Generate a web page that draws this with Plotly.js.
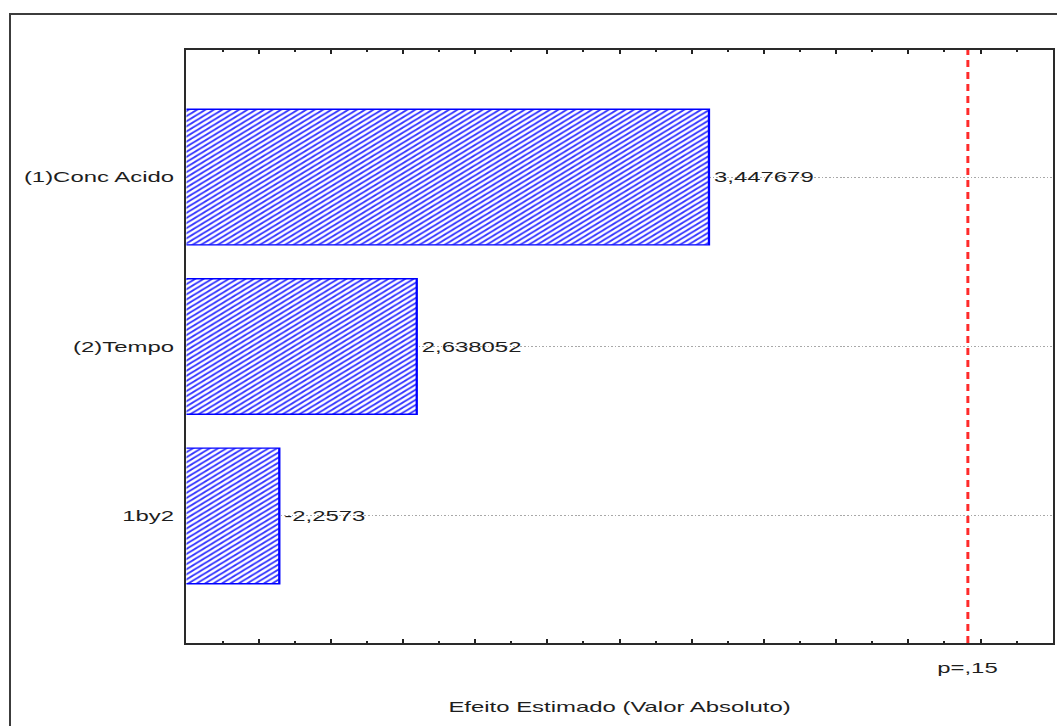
<!DOCTYPE html>
<html>
<head>
<meta charset="utf-8">
<script src="https://cdn.plot.ly/plotly-3.0.1.min.js"></script>
<style>
  html, body { margin: 0; padding: 0; background: #ffffff; }
  body { width: 1057px; height: 726px; overflow: hidden; position: relative; }
  /* the chart is laid out narrow and widened horizontally */
  #wrap { position: absolute; left: 0; top: 0; width: 640.6px; height: 726px;
          transform: scaleX(1.65); transform-origin: 0 0; }
  #frame { position: absolute; left: 9px; top: 13px; width: 1200px; height: 900px;
           border: 2px solid #3c3c3c; box-sizing: border-box; pointer-events: none; }
</style>
</head>
<body>
<div id="wrap"><div id="chart"></div></div>
<div id="frame"></div>
<script>
// Pareto chart of standardized effects
const factors = ['(1)Conc Acido', '(2)Tempo', '1by2'];
const effects = [3.447679, 2.638052, -2.2573];
const tCritical = 4.165;          // reference line for p = .15
const pLabel = 'p=,15';
const xTitle = 'Efeito Estimado (Valor Absoluto)';

const S = 1.65;                   // horizontal widening factor
const W = 1057 / S;
const H = 726;
const FONT = 'Liberation Sans, Arial, sans-serif';
const INK = '#1e1e1e';

const fmt = v => String(v).replace('.', ',');

const bars = {
  type: 'bar',
  orientation: 'h',
  y: factors,
  x: effects.map(Math.abs),
  width: 0.8,
  text: effects.map(fmt),
  textposition: 'outside',
  constraintext: 'none',
  cliponaxis: false,
  textfont: { family: FONT, size: 14.5, color: INK },
  marker: {
    color: '#ffffff',
    line: { color: '#0000ff', width: 1.4 },
    pattern: { shape: '/', fgcolor: '#3434ff', bgcolor: '#ffffff', size: 3.6, solidity: 0.42 }
  },
  hoverinfo: 'skip',
  showlegend: false
};

const layout = {
  width: W,
  height: H,
  margin: { l: 187 / S, r: W - 1052 / S, t: 50, b: 83 },
  paper_bgcolor: '#ffffff',
  plot_bgcolor: '#ffffff',
  font: { family: FONT, size: 14.5, color: INK },
  bargap: 0.2,
  xaxis: {
    type: 'linear',
    range: [2.0, 4.4],
    tick0: 2.0,
    dtick: 0.2,
    ticks: 'inside',
    ticklen: 4,
    tickwidth: 1.2,
    tickcolor: '#222222',
    minor: { dtick: 0.1, ticks: 'inside', ticklen: 2, tickwidth: 1.2, tickcolor: '#222222', showgrid: false },
    showticklabels: false,
    showgrid: false,
    zeroline: false,
    showline: true,
    linecolor: '#2a2a2a',
    linewidth: 1.6,
    mirror: 'ticks',
    title: { text: xTitle, font: { family: FONT, size: 14.5, color: INK }, standoff: 58 }
  },
  yaxis: {
    type: 'category',
    categoryorder: 'array',
    categoryarray: factors,
    range: [2.75, -0.75],
    ticks: '',
    showgrid: true,
    gridcolor: '#a8a8a8',
    griddash: '1px,1.2px',
    gridwidth: 1,
    zeroline: false,
    showline: true,
    linecolor: '#2a2a2a',
    linewidth: 1.6,
    mirror: true,
    ticklabelstandoff: 3,
    tickfont: { family: FONT, size: 14.5, color: INK }
  },
  yaxis2: {
    overlaying: 'y',
    anchor: 'x',
    side: 'left',
    type: 'linear',
    range: [0, 593 / 36.5],
    tick0: 12.5 / 36.5,
    dtick: 1,
    ticks: 'inside',
    ticklen: 3,
    tickwidth: 1.2,
    tickcolor: '#222222',
    showticklabels: false,
    showgrid: false,
    zeroline: false,
    showline: false,
    mirror: 'ticks'
  },
  shapes: [{
    type: 'line', xref: 'x', yref: 'paper',
    x0: tCritical, x1: tCritical, y0: 0, y1: 1,
    line: { color: '#ff2a2a', width: 1.8, dash: '7px,5px' }
  }],
  annotations: [{
    xref: 'x', yref: 'paper', x: tCritical, y: -25 / 593,
    xanchor: 'center', yanchor: 'middle', showarrow: false,
    text: pLabel, font: { family: FONT, size: 14.5, color: INK }
  }]
};

Plotly.newPlot('chart', [bars], layout, { staticPlot: true, displayModeBar: false });
</script>
</body>
</html>
